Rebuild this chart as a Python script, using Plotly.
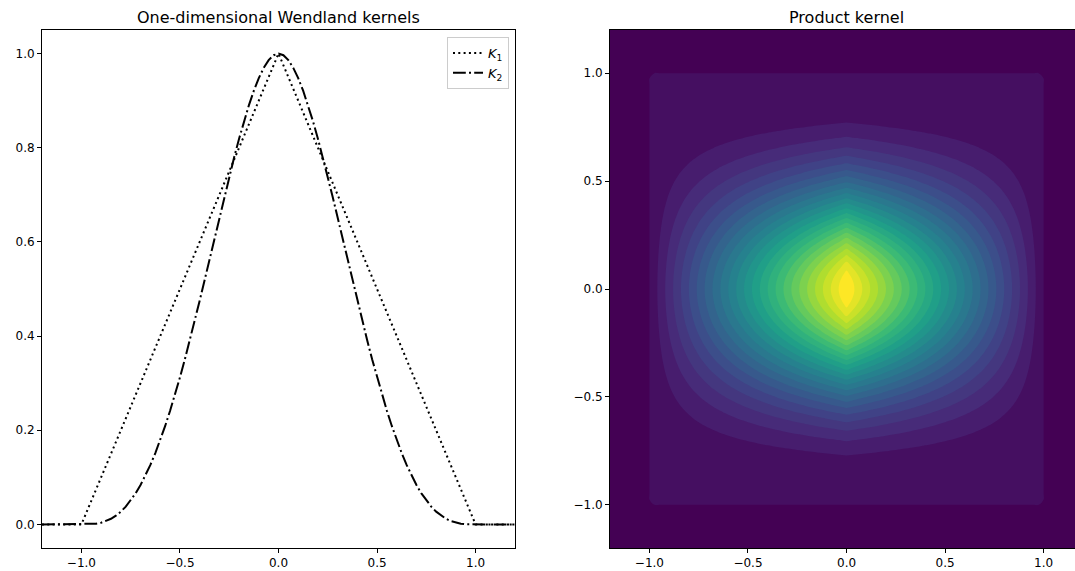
import plotly.graph_objects as go

x_half = [0.0, 0.025, 0.05, 0.075, 0.1, 0.125, 0.15, 0.175, 0.2, 0.225,
          0.25, 0.275, 0.3, 0.325, 0.35, 0.375, 0.4, 0.425, 0.45, 0.475,
          0.5, 0.525, 0.55, 0.575, 0.6, 0.625, 0.65, 0.675, 0.7, 0.725,
          0.75, 0.775, 0.8, 0.825, 0.85, 0.875, 0.9, 0.925, 0.95, 0.975,
          1.0, 1.025, 1.05, 1.075, 1.1, 1.125, 1.15, 1.175, 1.2]

k1_half = [1.0, 0.975, 0.95, 0.925, 0.9, 0.875, 0.85, 0.825, 0.8, 0.775,
           0.75, 0.725, 0.7, 0.675, 0.65, 0.625, 0.6, 0.575, 0.55, 0.525,
           0.5, 0.475, 0.45, 0.425, 0.4, 0.375, 0.35, 0.325, 0.3, 0.275,
           0.25, 0.225, 0.2, 0.175, 0.15, 0.125, 0.1, 0.075, 0.05, 0.025,
           0.0, 0.0, 0.0, 0.0, 0.0, 0.0, 0.0, 0.0, 0.0]

k2_half = [1.0, 0.9964, 0.986, 0.9695, 0.9477, 0.9211, 0.8905, 0.8563, 0.8192, 0.7797,
           0.7383, 0.6955, 0.6517, 0.6074, 0.563, 0.5188, 0.4752, 0.4325, 0.391, 0.3509,
           0.3125, 0.276, 0.2415, 0.2092, 0.1792, 0.1516, 0.1265, 0.1038, 0.0837, 0.066,
           0.0508, 0.0379, 0.0272, 0.0186, 0.012, 0.0071, 0.0037, 0.0016, 0.0005, 0.00006,
           0.0, 0.0, 0.0, 0.0, 0.0, 0.0, 0.0, 0.0, 0.0]

legend_labels = ["<i>K</i><sub>1</sub>", "<i>K</i><sub>2</sub>"]
titles = ["One-dimensional Wendland kernels", "Product kernel"]
left_xticks = [-1.0, -0.5, 0.0, 0.5, 1.0]
left_yticks = [0.0, 0.2, 0.4, 0.6, 0.8, 1.0]
right_ticks = [-1.0, -0.5, 0.0, 0.5, 1.0]

# ---- build full symmetric arrays and product grid ----
x_full = [-v for v in x_half[:0:-1]] + x_half
k1_full = k1_half[:0:-1] + k1_half
k2_full = k2_half[:0:-1] + k2_half
z = [[ky * kx for kx in k1_full] for ky in k2_full]

W, H = 1075, 571
FONT = "DejaVu Sans"

fig = go.Figure()

fig.add_trace(go.Scatter(
    x=x_full, y=k1_full, mode="lines", name=legend_labels[0],
    line=dict(color="black", width=2, dash="2px,3.3px"),
    xaxis="x", yaxis="y"))
fig.add_trace(go.Scatter(
    x=x_full, y=k2_full, mode="lines", name=legend_labels[1],
    line=dict(color="black", width=2, dash="12.8px,3.2px,2px,3.2px"),
    xaxis="x", yaxis="y"))

fig.add_trace(go.Contour(
    x=x_full, y=x_full, z=z,
    colorscale="Viridis", showscale=False,
    contours=dict(start=1e-12, end=0.96 + 1e-9, size=0.04, coloring="fill"),
    line=dict(width=0),
    hoverinfo="skip",
    xaxis="x2", yaxis="y2", showlegend=False))

ybot = 1 - 548 / H
ytop = 1 - 30 / H

axis_common = dict(
    showgrid=False, zeroline=False, showline=True, linecolor="black", linewidth=1,
    ticks="outside", ticklen=4, tickwidth=1, tickcolor="black",
    tickfont=dict(family=FONT, size=12, color="black"), tickformat=".1f")

fig.update_layout(
    width=W, height=H,
    margin=dict(l=0, r=0, t=0, b=0),
    paper_bgcolor="white", plot_bgcolor="white",
    font=dict(family=FONT, color="black"),
    xaxis=dict(domain=[42 / W, 515 / W], range=[-1.2, 1.2], mirror=True,
               tickvals=left_xticks, anchor="y", **axis_common),
    yaxis=dict(domain=[ybot, ytop], range=[-0.05, 1.05], mirror=True,
               tickvals=left_yticks, anchor="x", **axis_common),
    xaxis2=dict(domain=[610 / W, 1.0], range=[-1.2, 1.159], mirror=True,
                tickvals=right_ticks, anchor="y2", **axis_common),
    yaxis2=dict(domain=[ybot, ytop], range=[-1.2, 1.2], mirror=False,
                tickvals=right_ticks, anchor="x2", **axis_common),
    legend=dict(x=509 / W, xanchor="right", y=1 - 37 / H, yanchor="top",
                bgcolor="rgba(255,255,255,0.8)", bordercolor="#cccccc", borderwidth=1,
                font=dict(family=FONT, size=13, color="black")),
    annotations=[
        dict(text=titles[0], x=(42 + 515) / 2 / W, y=1 - 18 / H, xref="paper", yref="paper",
             xanchor="center", yanchor="middle", showarrow=False,
             font=dict(family=FONT, size=16, color="black")),
        dict(text=titles[1], x=(610 + 1083) / 2 / W, y=1 - 18 / H, xref="paper", yref="paper",
             xanchor="center", yanchor="middle", showarrow=False,
             font=dict(family=FONT, size=16, color="black")),
    ],
)

fig.write_html("out.html")
